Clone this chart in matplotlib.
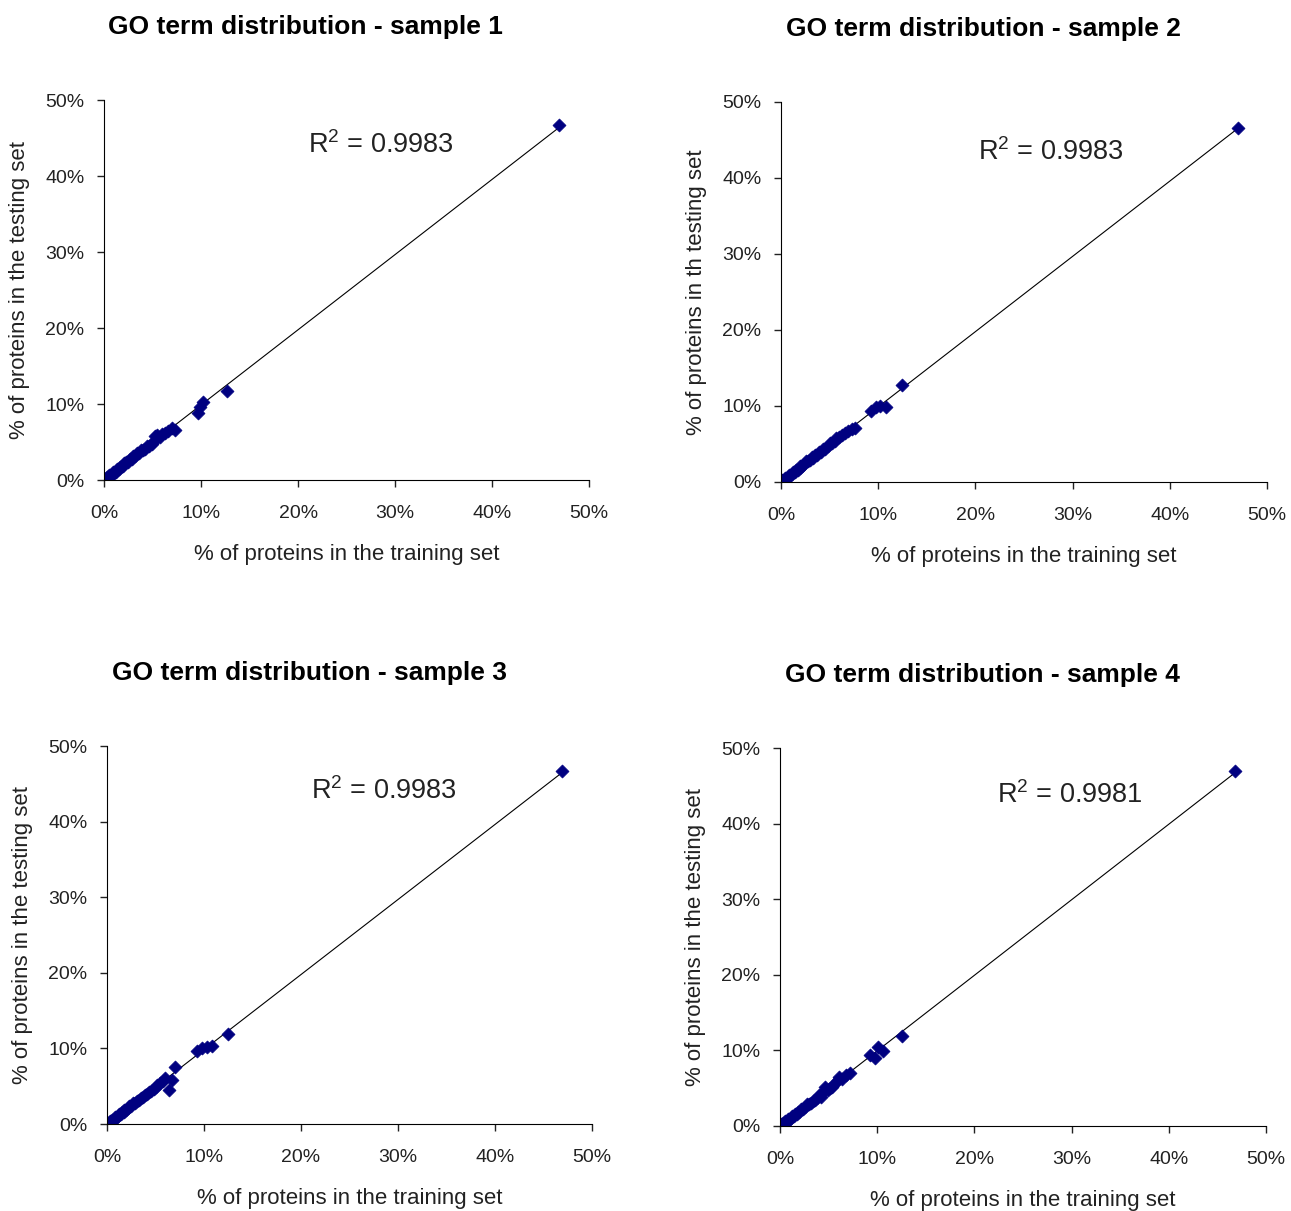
import numpy as np
import matplotlib
matplotlib.use("Agg")
import matplotlib.pyplot as plt
from matplotlib.ticker import PercentFormatter

plt.rcParams["font.family"] = ["Liberation Sans", "DejaVu Sans"]
plt.rcParams["mathtext.default"] = "regular"

# values in percent
s1_train = [0.1, 0.2, 0.3, 0.4, 0.5, 0.6, 0.8, 0.9, 1.0, 1.2, 1.3, 1.5, 1.6, 1.8, 2.0,
            2.1, 2.3, 2.5, 2.7, 2.9, 3.0, 3.2, 3.4, 3.6, 3.8, 4.0, 4.2, 4.4, 4.6, 4.9,
            5.1, 5.3, 5.5, 5.8, 6.0, 6.3, 6.6, 7.0, 7.3, 9.7, 9.9, 10.2, 12.7, 46.9]
s1_test = [0.2, 0.1, 0.4, 0.3, 0.6, 0.5, 0.7, 1.0, 0.9, 1.1, 1.4, 1.4, 1.7, 1.9, 1.9,
           2.2, 2.4, 2.4, 2.8, 2.8, 3.1, 3.1, 3.5, 3.5, 3.9, 3.9, 4.1, 4.5, 4.5, 4.8,
           5.2, 5.8, 5.9, 5.6, 6.1, 6.2, 6.5, 6.8, 6.6, 8.8, 9.6, 10.3, 11.7, 46.7]

s2_train = [0.1, 0.2, 0.3, 0.4, 0.5, 0.7, 0.8, 0.9, 1.1, 1.2, 1.4, 1.5, 1.7, 1.9, 2.0,
            2.2, 2.4, 2.6, 2.8, 3.0, 3.2, 3.3, 3.5, 3.7, 3.9, 4.1, 4.3, 4.5, 4.8, 5.0,
            5.2, 5.5, 5.7, 6.0, 6.3, 6.6, 6.9, 7.3, 7.6, 9.3, 9.8, 10.2, 10.8, 12.4, 47.0]
s2_test = [0.2, 0.1, 0.3, 0.5, 0.4, 0.6, 0.9, 0.8, 1.0, 1.3, 1.3, 1.6, 1.6, 1.8, 2.1,
           2.1, 2.3, 2.7, 2.7, 2.9, 3.3, 3.1, 3.6, 3.6, 4.0, 4.0, 4.4, 4.4, 4.7, 5.1,
           5.1, 5.4, 5.8, 5.9, 6.2, 6.5, 6.7, 7.0, 7.1, 9.3, 9.8, 10.0, 9.9, 12.8, 46.6]

s3_train = [0.1, 0.2, 0.3, 0.4, 0.5, 0.7, 0.8, 0.9, 1.1, 1.2, 1.4, 1.5, 1.7, 1.8, 2.0,
            2.2, 2.3, 2.5, 2.7, 2.9, 3.1, 3.3, 3.5, 3.7, 3.9, 4.1, 4.3, 4.5, 4.8, 5.0,
            5.2, 5.5, 5.8, 6.0, 6.4, 6.7, 7.0, 9.3, 9.8, 10.3, 10.8, 12.5, 46.9]
s3_test = [0.2, 0.1, 0.4, 0.3, 0.6, 0.5, 0.9, 0.8, 1.0, 1.3, 1.3, 1.6, 1.6, 1.9, 1.9,
           2.1, 2.4, 2.4, 2.8, 2.8, 3.0, 3.2, 3.4, 3.6, 3.8, 4.0, 4.2, 4.4, 4.7, 4.9,
           5.1, 5.4, 5.7, 6.1, 4.5, 5.8, 7.5, 9.6, 10.0, 10.2, 10.3, 11.9, 46.7]

s4_train = [0.1, 0.2, 0.3, 0.4, 0.5, 0.7, 0.8, 0.9, 1.1, 1.2, 1.4, 1.5, 1.7, 1.8, 2.0,
            2.2, 2.4, 2.6, 2.8, 3.0, 3.2, 3.4, 3.6, 3.8, 4.0, 4.2, 4.4, 4.6, 4.9, 5.1,
            5.3, 5.6, 5.9, 6.1, 6.4, 6.8, 7.2, 9.3, 9.8, 10.1, 10.6, 12.5, 46.8]
s4_test = [0.2, 0.1, 0.4, 0.3, 0.6, 0.5, 0.9, 0.8, 1.0, 1.3, 1.3, 1.6, 1.6, 1.9, 1.9,
           2.3, 2.3, 2.5, 2.9, 2.9, 3.1, 3.3, 3.5, 3.7, 4.1, 3.9, 4.5, 5.2, 4.7, 5.0,
           5.2, 5.5, 6.0, 6.5, 6.2, 6.7, 7.0, 9.4, 9.0, 10.4, 9.9, 11.9, 47.0]

titles = ["GO term distribution - sample 1", "GO term distribution - sample 2",
          "GO term distribution - sample 3", "GO term distribution - sample 4"]
ylabels = ["% of proteins in the testing set", "% of proteins in th testing set",
           "% of proteins in the testing set", "% of proteins in the testing set"]
xlabel = "% of proteins in the training set"
r2_labels = ["0.9983", "0.9983", "0.9983", "0.9981"]

panels = [
    (s1_train, s1_test, [0.0806, 0.6036, 0.3757, 0.3138], (305, 27), (28.5, 44.1)),
    (s2_train, s2_test, [0.6050, 0.6020, 0.3765, 0.3138], (983, 29), (27.8, 43.4)),
    (s3_train, s3_test, [0.0829, 0.0718, 0.3757, 0.3121], (309, 673), (28.5, 44.0)),
    (s4_train, s4_test, [0.6042, 0.0702, 0.3765, 0.3121], (982, 675), (29.8, 43.8)),
]

W, H = 1291, 1211
fig = plt.figure(figsize=(W / 100, H / 100), dpi=100)

for i, (xs, ys, rect, tpos, rpos) in enumerate(panels):
    ax = fig.add_axes(rect)
    xs = np.array(xs)
    ys = np.array(ys)
    slope, icpt = np.polyfit(xs, ys, 1)
    xl = np.array([xs.min(), xs.max()])
    ax.plot(xl, slope * xl + icpt, color="black", lw=0.8, zorder=1)
    ax.scatter(xs, ys, marker="D", s=44, color="#000080", edgecolors="#000080",
               lw=0.5, zorder=2)
    ax.set_xlim(0, 50)
    ax.set_ylim(0, 50)
    ax.set_xticks(range(0, 51, 10))
    ax.set_yticks(range(0, 51, 10))
    ax.xaxis.set_major_formatter(PercentFormatter(xmax=100, decimals=0))
    ax.yaxis.set_major_formatter(PercentFormatter(xmax=100, decimals=0))
    for s in ["top", "right"]:
        ax.spines[s].set_visible(False)
    ax.tick_params(direction="out", length=5, width=1, labelsize=14, colors="#222222")
    ax.tick_params(axis="x", pad=13)
    ax.tick_params(axis="y", pad=9)
    ax.set_xlabel(xlabel, fontsize=16, labelpad=16, color="#222222")
    ax.set_ylabel(ylabels[i], fontsize=16, labelpad=11, color="#222222")
    ax.text(rpos[0], rpos[1], "R$^2$ = " + r2_labels[i], fontsize=19.5,
            ha="center", va="center", color="#222222")
    fig.text(tpos[0] / W, 1 - tpos[1] / H, titles[i], fontsize=19,
             fontweight="bold", ha="center", va="center")

fig.savefig("out.png", dpi=100)
